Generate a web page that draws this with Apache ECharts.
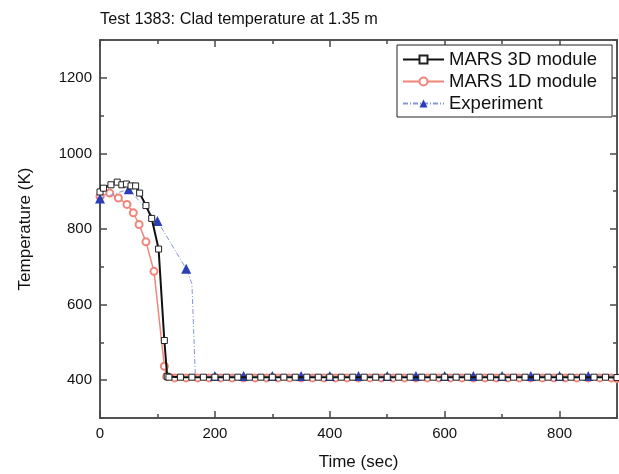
<!DOCTYPE html>
<html>
<head>
<meta charset="utf-8">
<script src="https://cdn.jsdelivr.net/npm/echarts@6/dist/echarts.min.js"></script>
<style>html,body{margin:0;padding:0;background:#fff}#c{width:619px;height:474px}</style>
</head>
<body>
<div id="c"></div>
<script>
var titleText = 'Test 1383: Clad temperature at 1.35 m';
var xName = 'Time (sec)';
var yName = 'Temperature (K)';
var seriesNames = ['MARS 3D module', 'MARS 1D module', 'Experiment'];

var xMajorTicks = [0, 200, 400, 600, 800];
var xMinorTicks = [100, 300, 500, 700, 900];
var yMajorTicks = [400, 600, 800, 1000, 1200];
var yMinorTicks = [300, 500, 700, 900, 1100, 1300];

var mars3d = [
  [0, 898], [6, 908], [19, 917], [30, 924], [38, 917], [46, 919], [54, 914], [62, 914],
  [69, 895], [80, 862], [90, 828], [102, 747], [112, 505], [117, 410],
  [120, 408], [140, 408], [160, 408], [180, 408], [200, 408], [220, 408], [240, 408],
  [260, 408], [280, 408], [300, 408], [320, 408], [340, 408], [360, 408], [380, 408],
  [400, 408], [420, 408], [440, 408], [460, 408], [480, 408], [500, 408], [520, 408],
  [540, 408], [560, 408], [580, 408], [600, 408], [620, 408], [640, 408], [660, 408],
  [680, 408], [700, 408], [720, 408], [740, 408], [760, 408], [780, 408], [800, 408],
  [820, 408], [840, 408], [860, 408], [880, 408], [900, 407]
];
var mars1d = [
  [0, 886], [17, 895], [32, 882], [47, 865], [58, 843], [68, 812], [80, 766], [94, 688],
  [112, 437], [116, 410],
  [130, 406], [150, 406], [170, 406], [190, 406], [210, 406], [230, 406], [250, 406],
  [270, 406], [290, 406], [310, 406], [330, 406], [350, 406], [370, 406], [390, 406],
  [410, 406], [430, 406], [450, 406], [470, 406], [490, 406], [510, 406], [530, 406],
  [550, 406], [570, 406], [590, 406], [610, 406], [630, 406], [650, 406], [670, 406],
  [690, 406], [710, 406], [730, 406], [750, 406], [770, 406], [790, 406], [810, 406],
  [830, 406], [850, 406], [870, 406], [890, 406], [900, 404]
];
var experiment = [
  [0, 881], [50, 905], [100, 821], [150, 695], [160, 655], [166, 411],
  [200, 411], [250, 411], [300, 411], [350, 411], [400, 411], [450, 411], [500, 411],
  [550, 411], [600, 411], [650, 411], [700, 411], [750, 411], [800, 411], [850, 411],
  [900, 411]
];
// points of the experiment that carry no marker (bend of the quench front)
var expNoMarker = [160, 166, 900];

var font = 'Liberation Sans, Arial, sans-serif';
var axisColor = '#4a4a4a';

function plain(v) { return String(v); }

function xAx(pos, ticks, len, labels) {
  return {
    type: 'value', position: pos, min: 0, max: 900, gridIndex: 0,
    axisLine: { show: true, onZero: false, lineStyle: { color: axisColor, width: 1.5 } },
    axisTick: { show: true, inside: true, length: len, customValues: ticks, lineStyle: { color: axisColor, width: 1.5 } },
    axisLabel: labels ? { show: true, customValues: xMajorTicks, formatter: plain, margin: 8, color: '#111', fontFamily: font, fontSize: 15 } : { show: false },
    splitLine: { show: false },
    name: labels ? xName : '', nameLocation: 'middle', nameGap: 36,
    nameTextStyle: { color: '#111', fontFamily: font, fontSize: 17 }
  };
}
function yAx(pos, ticks, len, labels) {
  return {
    type: 'value', position: pos, min: 300, max: 1300, gridIndex: 0,
    axisLine: { show: true, onZero: false, lineStyle: { color: axisColor, width: 1.5 } },
    axisTick: { show: true, inside: true, length: len, customValues: ticks, lineStyle: { color: axisColor, width: 1.5 } },
    axisLabel: labels ? { show: true, customValues: yMajorTicks, formatter: plain, margin: 8, color: '#111', fontFamily: font, fontSize: 15 } : { show: false },
    splitLine: { show: false },
    name: labels ? yName : '', nameLocation: 'middle', nameGap: 66,
    nameTextStyle: { color: '#111', fontFamily: font, fontSize: 17 }
  };
}

var chart = echarts.init(document.getElementById('c'), null, { renderer: 'canvas' });
chart.setOption({
  animation: false,
  backgroundColor: '#fff',
  title: { text: titleText, left: 95, top: 7, textStyle: { fontFamily: font, fontSize: 16.3, fontWeight: 'normal', color: '#111' } },
  grid: { left: 100, right: 2, top: 40, bottom: 56, outerBoundsMode: 'none', containLabel: false },
  legend: {
    orient: 'vertical', left: 397, top: 45, width: 215,
    padding: [5, 15, 4, 5], itemGap: 3, itemWidth: 41, itemHeight: 10,
    borderColor: '#222', borderWidth: 1, backgroundColor: '#fff',
    textStyle: { fontFamily: font, fontSize: 18.5, color: '#111' },
    data: seriesNames
  },
  xAxis: [
    xAx('bottom', xMajorTicks, 7, true),
    xAx('bottom', xMinorTicks, 4, false),
    xAx('top', xMajorTicks, 7, false),
    xAx('top', xMinorTicks, 4, false)
  ],
  yAxis: [
    yAx('left', yMajorTicks, 7, true),
    yAx('left', yMinorTicks, 4, false),
    yAx('right', yMajorTicks, 7, false),
    yAx('right', yMinorTicks, 4, false)
  ],
  series: [
    {
      name: seriesNames[1], type: 'line', data: mars1d, xAxisIndex: 0, yAxisIndex: 0,
      symbol: 'emptyCircle', symbolSize: 7, showAllSymbol: true,
      itemStyle: { color: '#f2857a', borderColor: '#f2857a', borderWidth: 1 },
      lineStyle: { color: '#f2857a', width: 1.5 }, z: 2
    },
    {
      name: seriesNames[2], type: 'line', xAxisIndex: 0, yAxisIndex: 0,
      data: experiment.map(function (p) {
        return expNoMarker.indexOf(p[0]) >= 0 ? { value: p, symbol: 'none' } : { value: p };
      }),
      symbol: 'triangle', symbolSize: 10, showAllSymbol: true,
      itemStyle: { color: '#2a3fb5' },
      lineStyle: { color: '#8496d8', width: 1, type: [5, 2, 1, 2] }, z: 3
    },
    {
      name: seriesNames[0], type: 'line', data: mars3d, xAxisIndex: 0, yAxisIndex: 0,
      symbol: 'rect', symbolSize: 6, showAllSymbol: true,
      itemStyle: { color: '#fff', borderColor: '#222', borderWidth: 1 },
      lineStyle: { color: '#111', width: 2 }, z: 4
    }
  ]
});
</script>
</body>
</html>
